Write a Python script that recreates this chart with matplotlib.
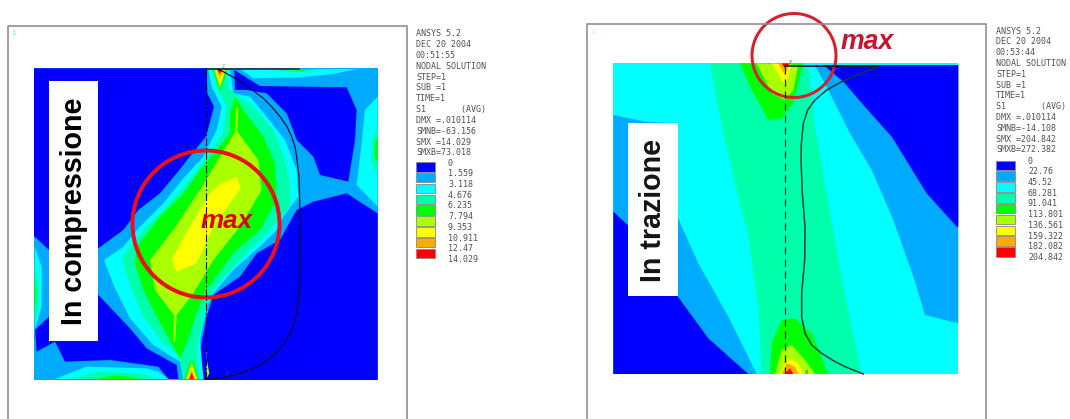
import numpy as np
import matplotlib
matplotlib.use("Agg")
import matplotlib.pyplot as plt
from matplotlib.patches import Rectangle, Ellipse

# colori delle bande (da 0 al massimo)
BLUE = "#0000ff"
SKY = "#00aaff"
CYAN = "#00ffff"
AQUA = "#00ffaa"
GREEN = "#00ff00"
LIME = "#aaff00"
YELLOW = "#ffff00"
ORANGE = "#ffaa00"
RED = "#ff0000"
legend_colors = [BLUE, SKY, CYAN, AQUA, GREEN, LIME, YELLOW, ORANGE, RED]

# testi ANSYS
info_left = ["ANSYS 5.2", "DEC 20 2004", "00:51:55", "NODAL SOLUTION", "STEP=1", "SUB =1", "TIME=1",
             "S1       (AVG)", "DMX =.010114", "SMNB=-63.156", "SMX =14.029", "SMXB=73.018"]
levels_left = ["0", "1.559", "3.118", "4.676", "6.235", "7.794", "9.353", "10.911", "12.47", "14.029"]
info_right = ["ANSYS 5.2", "DEC 20 2004", "00:53:44", "NODAL SOLUTION", "STEP=1", "SUB =1", "TIME=1",
              "S1       (AVG)", "DMX =.010114", "SMNB=-14.108", "SMX =204.842", "SMXB=272.382"]
levels_right = ["0", "22.76", "45.52", "68.281", "91.041", "113.801", "136.561", "159.322", "182.082", "204.842"]

# bande pannello sinistro: (colore, contorno), disegnate in ordine
bands_left = [
    (SKY, [(102, 55), (1133, 55), (1133, 990), (102, 990)]),
    (BLUE, [(102, 55), (620, 55), (622, 130), (642, 170), (618, 260), (585, 300), (530, 370), (480, 430),
            (415, 480), (370, 540), (295, 595), (147, 600), (102, 558)]),
    (BLUE, [(295, 735), (390, 835), (440, 895), (530, 945), (535, 987), (505, 987), (475, 950), (330, 930),
            (195, 935), (165, 875), (110, 905), (105, 840), (147, 800)]),
    (BLUE, [(612, 990), (600, 900), (620, 800), (640, 735), (720, 680), (770, 610), (840, 570), (890, 480),
            (940, 455), (1040, 430), (1133, 490), (1133, 990)]),
    (BLUE, [(703, 60), (735, 80), (780, 108), (1040, 112), (1070, 180), (1065, 270), (1045, 395), (960, 375),
            (940, 320), (890, 270), (860, 190), (800, 130), (740, 120), (705, 120)]),
    (CYAN, [(625, 60), (690, 60), (700, 130), (750, 140), (800, 200), (855, 270), (890, 360), (895, 440),
            (850, 500), (830, 540), (790, 580), (700, 660), (640, 730), (620, 770), (600, 870), (610, 987),
            (550, 987), (540, 935), (460, 885), (390, 805), (345, 715), (312, 630), (370, 590), (415, 535),
            (490, 460), (550, 385), (610, 320), (650, 240), (665, 170), (635, 110)]),
    (CYAN, [(720, 57), (760, 85), (900, 82), (1000, 72), (1070, 57)]),
    (CYAN, [(1133, 140), (1095, 180), (1085, 280), (1070, 405), (1133, 470)]),
    (CYAN, [(165, 987), (260, 950), (440, 955), (475, 965), (505, 987)]),
    (CYAN, [(104, 590), (125, 650), (125, 770), (104, 840)]),
    (AQUA, [(640, 60), (650, 110), (680, 170), (668, 250), (610, 335), (560, 400), (490, 480), (430, 540),
            (365, 625), (395, 720), (430, 800), (490, 880), (535, 915), (552, 987), (598, 987), (590, 900),
            (610, 800), (640, 720), (720, 630), (790, 560), (870, 470), (870, 400), (855, 330), (820, 240),
            (760, 170), (690, 120), (675, 60)]),
    (AQUA, [(800, 57), (880, 68), (990, 57)]),
    (AQUA, [(1133, 230), (1115, 270), (1115, 340), (1133, 380)]),
    (AQUA, [(220, 987), (290, 965), (420, 970), (470, 987)]),
    (AQUA, [(104, 640), (115, 700), (115, 780), (104, 820)]),
    (GREEN, [(705, 140), (690, 190), (690, 250), (650, 300), (600, 360), (550, 430), (480, 500), (410, 590),
             (405, 640), (430, 720), (470, 800), (520, 890), (540, 925), (560, 880), (590, 790), (620, 720),
             (700, 610), (780, 540), (830, 450), (825, 340), (790, 260), (730, 180)]),
    (GREEN, [(638, 60), (660, 125), (682, 60)]),
    (GREEN, [(860, 57), (900, 63), (950, 57)]),
    (GREEN, [(1133, 260), (1125, 280), (1125, 320), (1133, 340)]),
    (GREEN, [(290, 987), (350, 975), (420, 987)]),
    (GREEN, [(104, 690), (110, 730), (104, 780)]),
    (GREEN, [(553, 987), (575, 925), (597, 987)]),
    (LIME, [(708, 172), (715, 175), (712, 245), (775, 330), (785, 420), (720, 530), (640, 630), (580, 730),
            (530, 795), (526, 875), (520, 875), (522, 795), (465, 720), (450, 630), (520, 540), (600, 420),
            (660, 320), (706, 245)]),
    (LIME, [(643, 60), (660, 115), (677, 60)]),
    (LIME, [(558, 987), (575, 935), (592, 987)]),
    (LIME, [(618, 915), (628, 970), (620, 985)]),
    (YELLOW, [(712, 380), (722, 415), (640, 530), (590, 640), (530, 665), (515, 630), (570, 530), (630, 430),
              (655, 405)]),
    (YELLOW, [(646, 60), (660, 105), (674, 60)]),
    (YELLOW, [(562, 987), (575, 945), (588, 987)]),
    (ORANGE, [(650, 60), (660, 88), (670, 60)]),
    (ORANGE, [(565, 987), (575, 955), (585, 987)]),
    (RED, [(653, 60), (659, 72), (665, 60)]),
    (RED, [(568, 987), (575, 968), (582, 987)]),
]
outline_left = [(655, 58), (670, 65), (700, 82), (730, 100), (760, 122), (790, 145), (815, 170), (840, 200),
                (860, 228), (875, 260), (885, 290), (890, 320), (897, 380), (900, 480), (900, 600), (900, 700),
                (890, 790), (878, 835), (860, 870), (838, 900), (810, 925), (780, 945), (750, 960), (715, 972),
                (680, 980), (650, 986), (615, 987)]
top_left = [(618, 57), (898, 57)]
axis_left = [(618, 58), (618, 987)]

# bande pannello destro
bands_right = [
    (CYAN, [(85, 160), (1120, 160), (1120, 1092), (85, 1092)]),
    (SKY, [(85, 315), (180, 335), (277, 340), (277, 620), (340, 760), (430, 920), (515, 1092), (85, 1092)]),
    (BLUE, [(85, 605), (128, 645), (277, 858), (370, 985), (490, 1092), (85, 1092)]),
    (SKY, [(690, 165), (740, 260), (795, 370), (860, 480), (925, 630), (985, 800), (1020, 915), (1120, 940),
           (1120, 165)]),
    (BLUE, [(715, 165), (775, 215), (835, 285), (920, 380), (1025, 550), (1115, 650), (1120, 650), (1120, 165)]),
    (AQUA, [(375, 160), (400, 300), (440, 480), (490, 680), (520, 900), (530, 1092), (830, 1092), (775, 830),
            (730, 580), (690, 350), (670, 165)]),
    (GREEN, [(465, 160), (495, 230), (550, 330), (590, 325), (625, 280), (655, 160)]),
    (LIME, [(515, 160), (560, 250), (600, 270), (625, 240), (640, 165)]),
    (YELLOW, [(560, 160), (600, 225), (622, 165)]),
    (ORANGE, [(580, 160), (600, 195), (612, 160)]),
    (RED, [(590, 160), (600, 175), (615, 160)]),
    (GREEN, [(555, 1092), (560, 1000), (590, 930), (630, 925), (680, 970), (730, 1092)]),
    (LIME, [(570, 1092), (590, 1020), (620, 1005), (660, 1050), (690, 1092)]),
    (YELLOW, [(585, 1092), (610, 1045), (640, 1060), (655, 1092)]),
    (ORANGE, [(590, 1092), (605, 1060), (630, 1070), (640, 1092)]),
    (RED, [(598, 1092), (615, 1075), (625, 1092)]),
]
outline_right = [(880, 170), (830, 190), (770, 215), (725, 240), (690, 270), (668, 300), (655, 340), (649, 400),
                 (648, 450), (652, 550), (660, 650), (659, 750), (650, 850), (650, 920), (660, 970), (680, 1005),
                 (710, 1030), (745, 1052), (780, 1070), (835, 1092)]
top_right = [(600, 168), (880, 170)]
axis_right = [(600, 170), (600, 1090)]


def to_px(points, ox, oy):
    pts = np.array(points, dtype=float)
    return pts[:, 0] / 3 + ox, pts[:, 1] / 3 + oy


def px_w(px):
    return px * 0.72


def draw_legend(ax, info, levels, x0, y_info, y_swatch, x_label, y_label):
    for i, riga in enumerate(info):
        ax.text(x0, y_info + i * 10.8, riga, family="DejaVu Sans Mono", fontsize=6.0, color="#505050", va="center")
    for i, col in enumerate(legend_colors):
        ax.add_patch(Rectangle((x0, y_swatch + i * 10.85), 18.5, 9.5, facecolor=col, edgecolor="#888888", lw=0.6))
    for i, lev in enumerate(levels):
        ax.text(x_label, y_label + i * 10.72, lev, family="DejaVu Sans Mono", fontsize=6.0, color="#505050", va="center")


fig = plt.figure(figsize=(10.7, 4.19), dpi=100)
ax = fig.add_axes([0, 0, 1, 1])
ax.set_xlim(0, 1070)
ax.set_ylim(419, 0)
ax.axis("off")

# cornici
for x1, x2, y_top in [(8, 407, 26), (587, 986, 24)]:
    ax.plot([x1, x1, x2, x2], [419, y_top, y_top, 419], color="#8c8c8c", lw=px_w(1.6))

# pannello sinistro
for col, contorno in bands_left:
    x, y = to_px(contorno, 0, 50)
    ax.fill(x, y, color=col, lw=0)
x, y = to_px(outline_left, 0, 50)
ax.plot(x, y, color="#101020", lw=px_w(1.2))
x, y = to_px(top_left, 0, 50)
ax.plot(x, y, color="#202020", lw=px_w(1.5))
x, y = to_px(axis_left, 0, 50)
ax.plot(x, y, color="#101010", lw=px_w(1.1), ls=(0, (7, 2, 1.5, 2)))
ax.add_patch(Ellipse((206, 224), 147, 147, fill=False, edgecolor="#e8101c", lw=px_w(4)))
ax.add_patch(Rectangle((49, 81), 49, 260, facecolor="white", edgecolor="none"))
ax.text(74, 211, "In compressione", rotation=90, family="Liberation Sans", weight="bold", fontsize=20.6,
        color="black", ha="center", va="center")
ax.text(226.5, 221, "max", family="Liberation Sans", weight="bold", style="italic", fontsize=18.7, color="#e00000",
        ha="center", va="center")
ax.text(13, 33, "1", family="DejaVu Sans Mono", fontsize=5, color="#40ffff", ha="center", va="center")
ax.text(207, 354, "Y", family="DejaVu Sans Mono", fontsize=4, color="#707070", ha="center", va="center")
ax.text(228, 373, "X", family="DejaVu Sans Mono", fontsize=4, color="#404040", ha="center", va="center")
ax.text(223, 67, "Z", family="DejaVu Sans Mono", fontsize=3.5, color="#909090", ha="center", va="center")
draw_legend(ax, info_left, levels_left, 416, 34, 162, 448, 163)

# pannello destro
for col, contorno in bands_right:
    x, y = to_px(contorno, 585, 10)
    ax.fill(x, y, color=col, lw=0)
x, y = to_px(outline_right, 585, 10)
ax.plot(x, y, color="#0c3c40", lw=px_w(1.5))
x, y = to_px(top_right, 585, 10)
ax.plot(x, y, color="#101040", lw=px_w(1.5))
x, y = to_px(axis_right, 585, 10)
ax.plot(x, y, color="#1c2c20", lw=px_w(1.2), ls=(0, (6, 4)))
ax.add_patch(Ellipse((794, 55.5), 84, 84, fill=False, edgecolor="#d8202c", lw=px_w(3)))
ax.add_patch(Rectangle((628, 123), 49.5, 173, facecolor="white", edgecolor="none"))
ax.text(653, 210, "In trazione", rotation=90, family="Liberation Sans", weight="bold", fontsize=20.6,
        color="#151515", ha="center", va="center")
ax.text(867.5, 42, "max", family="Liberation Sans", weight="bold", style="italic", fontsize=19.2, color="#c8142c",
        ha="center", va="center")
ax.text(592, 32, "1", family="DejaVu Sans Mono", fontsize=5, color="#a0ffff", ha="center", va="center")
ax.text(791, 62, "Y", family="DejaVu Sans Mono", fontsize=4, color="#707070", ha="center", va="center")
ax.text(807, 372, "X", family="DejaVu Sans Mono", fontsize=4, color="#404040", ha="center", va="center")
draw_legend(ax, info_right, levels_right, 996, 31, 160.5, 1028, 161)

fig.savefig("out.png", dpi=100)
